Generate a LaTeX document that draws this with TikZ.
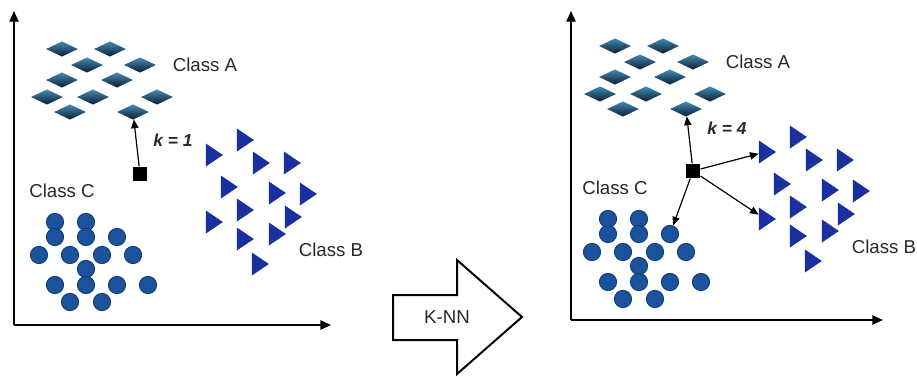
\documentclass[tikz,border=0pt]{standalone}
\usepackage{fontspec}
\setmainfont{Liberation Sans}
\usetikzlibrary{arrows.meta}
\usetikzlibrary{shapes.geometric}

\definecolor{diamondtop}{RGB}{70,138,180}
\definecolor{diamondbot}{RGB}{8,30,52}
\definecolor{dotblue}{RGB}{28,82,155}
\definecolor{dotedge}{RGB}{16,58,115}
\definecolor{triblue}{RGB}{26,48,160}
\definecolor{labelgray}{RGB}{40,40,40}

\begin{document}
\begin{tikzpicture}[x=0.75pt,y=-0.75pt]

	\tikzset{ClassA/.style = {diamond, draw=none, inner sep=0pt,
			minimum width=24pt, minimum height=11.5pt,
			top color=diamondtop, bottom color=diamondbot}}
	\tikzset{ClassB/.style = {isosceles triangle, isosceles triangle stretches,
			fill=triblue, inner sep=0pt,
			minimum width=17.25pt, minimum height=12.75pt}}
	\tikzset{ClassC/.style = {circle, fill=dotblue, draw=dotedge, line width=0.6pt,
			inner sep=0pt, minimum size=13pt}}
	\tikzset{Query/.style = {rectangle, fill=black, inner sep=0pt, minimum size=11pt}}
	\tikzset{ClassLabel/.style = {text=labelgray, font=\fontsize{14}{16}\selectfont}}
	\tikzset{KLabel/.style = {text=labelgray, font=\fontsize{13}{15}\selectfont\bfseries\itshape}}
	\tikzset{Axis/.style = {line width=1pt, -{Triangle[length=8pt,width=7pt]}}}
	\tikzset{EdgeStyle/.style = {line width=0.9pt, -{Triangle[length=6.5pt,width=5.5pt]}}}

	\useasboundingbox (0,0) rectangle (917,376);

	% the two scatter plots
	\foreach \s/\dx/\dy in {L/0/0,R/553/-3}{
		\begin{scope}[shift={(\dx,\dy)}]
			\foreach \x/\y [count=\i] in {62/49,110/49,87/65,140/65,62/80,117/80,
					47/97,93/97,157/97,70/112,133/112}
				\node[ClassA](\s-a\i) at (\x,\y) {};
			\foreach \x/\y [count=\i] in {243/140,212/155,259/163,290/163,227/187,
					275/193,306/194,243/210,291/217,212/222,243/239,275/234,258/264}
				\node[ClassB](\s-b\i) at (\x,\y) {};
			\foreach \x/\y [count=\i] in {55/222,86/222,55/237,86/237,117/237,
					39/255,70/255,102/255,133/255,86/269,55/285,86/285,117/285,148/285,
					70/302,102/302}
				\node[ClassC](\s-c\i) at (\x,\y) {};
			\node[Query](\s-q) at (140,174) {};
			\node[ClassLabel](\s-labA) at (205,65) {Class A};
			\node[ClassLabel](\s-labB) at (331,250) {Class B};
			\node[ClassLabel](\s-labC) at (62,191) {Class C};
		\end{scope}
	}

	% axes
	\coordinate (L-o) at (14,325);
	\coordinate (L-ytop) at (14,11);
	\coordinate (L-xend) at (331,325);
	\coordinate (R-o) at (571,320);
	\coordinate (R-ytop) at (571,11);
	\coordinate (R-xend) at (883,320);
	\draw[Axis](L-o) -- (L-ytop);
	\draw[Axis](L-o) -- (L-xend);
	\draw[Axis](R-o) -- (R-ytop);
	\draw[Axis](R-o) -- (R-xend);

	% nearest neighbours
	\node[KLabel](L-k) at (173,140) {k = 1};
	\node[KLabel](R-k) at (727,128) {k = 4};
	\draw[EdgeStyle](L-q) -- (L-a11);
	\draw[EdgeStyle](R-q) -- (R-a11);
	\draw[EdgeStyle](R-q) -- (R-b2);
	\draw[EdgeStyle](R-q) -- (R-b10);
	\draw[EdgeStyle](R-q) -- (R-c5);

	% big arrow
	\draw[line width=1.5pt, line join=miter] (393,295) -- (457,295) -- (457,260)
		-- (522,317) -- (457,374) -- (457,340) -- (393,340) -- cycle;
	\node[ClassLabel](knn) at (447,317) {K-NN};

\end{tikzpicture}
\end{document}
